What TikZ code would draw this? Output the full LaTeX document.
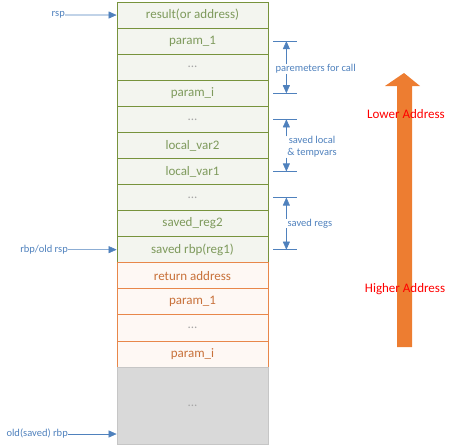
\documentclass[tikz,border=0pt]{standalone}
\usepackage{fontspec}
\setmainfont{Carlito}
\usetikzlibrary{arrows.meta,positioning}
\definecolor{leaf}{HTML}{77933C}
\definecolor{leafink}{HTML}{7E9A5C}
\definecolor{leafwash}{HTML}{F3F5EF}
\definecolor{rust}{HTML}{E8874A}
\definecolor{rustink}{HTML}{C8713A}
\definecolor{rustwash}{HTML}{FEF8F4}
\definecolor{fog}{HTML}{D9D9D9}
\definecolor{pointer}{HTML}{4F81BD}
\definecolor{heat}{HTML}{ED7D31}
\newcommand\gap{\textcolor{gray!70}{...}}

\begin{document}
\begin{tikzpicture}[x=1pt,y=-1pt,>={Triangle[length=8pt,width=7pt]},
  cell/.style={draw,line width=0.75pt,minimum width=151pt,minimum height=26.07pt,
    inner sep=0pt,font=\fontsize{13}{15}\selectfont},
  greencell/.style={cell,draw=leaf,fill=leafwash,text=leafink},
  orangecell/.style={cell,draw=rust,fill=rustwash,text=rustink},
  tag/.style={text=pointer,font=\fontsize{10.5}{12}\selectfont,inner sep=0pt},
  ptr/.style={->,pointer,line width=0.6pt},
  tick/.style={pointer,line width=0.6pt}]
  \useasboundingbox (0,0) rectangle (453,447);
  % frame of the callee
  \foreach \name/\txt [count=\i] in {res/result(or address),pa/param\_1,pdots/\gap,
      pi/param\_i,ldots/\gap,lv2/local\_var2,lv1/local\_var1,sdots/\gap,
      sr2/saved\_reg2,rbp/saved rbp(reg1)}
    \node[greencell] (\name) at (192.5,{2+26.07*(\i-0.5)}) {\txt};
  % frame of the caller
  \foreach \name/\txt [count=\i from 11] in {ret/return address,opa/param\_1,
      odots/\gap,opi/param\_i}
    \node[orangecell] (\name) at (192.5,{2+26.07*(\i-0.5)}) {\txt};
  \node[cell,draw=gray!45,fill=fog,minimum height=77pt] (old) at (192.5,405.5) {\gap};

  % pointers on the left
  \node[tag,anchor=east] (rsp) at (65,15) {rsp};
  \draw[ptr] (rsp) -- (res.west);
  \node[tag,anchor=east] (bp) at (68,249.7) {rbp/old rsp};
  \draw[ptr] (bp) -- (rbp.west);
  \node[tag,anchor=east] (obp) at (68,434) {old(saved) rbp};
  \coordinate (oldbp) at (old.west |- obp);
  \draw[ptr] (obp) -- (oldbp);

  % brackets on the right
  \foreach \row in {pa,pi,ldots,lv1,sdots,rbp}{
    \coordinate (\row t) at ([xshift=18pt]\row.east);
    \draw[tick] ([xshift=5pt]\row.east) -- ++(24,0);
  }
  \node[tag,anchor=west] (pfc) at ([xshift=7pt,yshift=-2pt]pdots.east) {paremeters for call};
  \draw[ptr] (pat |- pfc.north) -- (pat);
  \draw[ptr] (pit |- pfc.south) -- (pit);
  \node[tag,align=center] (slt) at (312,147) {saved local\\\& tempvars};
  \draw[ptr] (ldotst |- slt.north) -- (ldotst);
  \draw[ptr] (lv1t |- slt.south) -- (lv1t);
  \node[tag,anchor=west] (srg) at ([xshift=19pt]sr2.east) {saved regs};
  \draw[ptr] (sdotst |- srg.north) -- (sdotst);
  \draw[ptr] (rbpt |- srg.south) -- (rbpt);

  % growth direction
  \fill[heat] (397,347) -- (397,86) -- (385,86) -- (404,73) -- (420,86)
    -- (412,86) -- (412,347) -- cycle;
  \node[text=red,font=\fontsize{13}{15}\selectfont] (low) at (406,114) {Lower Address};
  \node[text=red,font=\fontsize{13}{15}\selectfont] (high) at (405,289) {Higher Address};
\end{tikzpicture}
\end{document}
